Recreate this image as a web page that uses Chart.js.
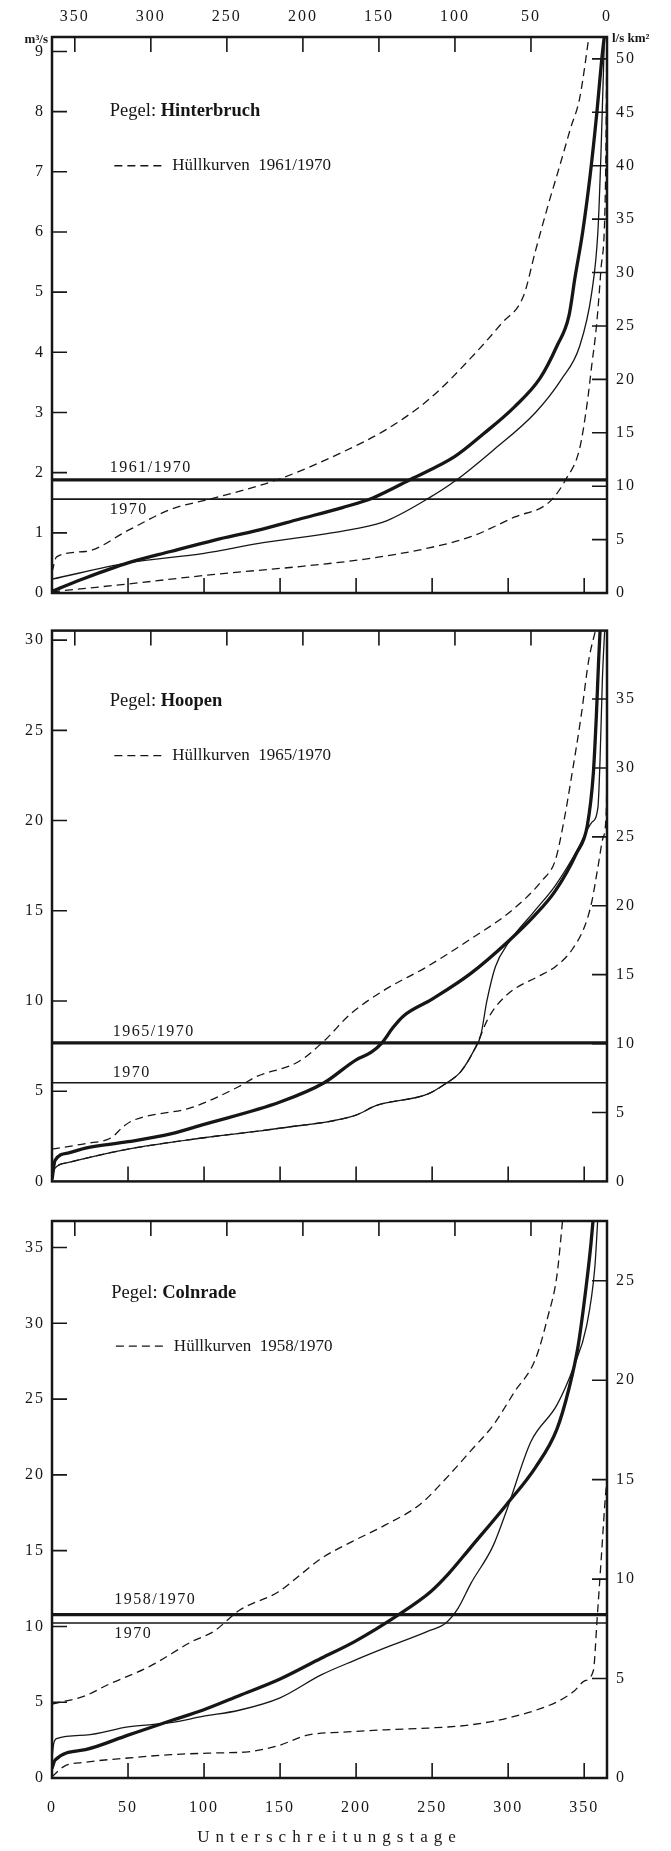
<!DOCTYPE html>
<html>
<head>
<meta charset="utf-8">
<title>Dauerlinien Hinterbruch, Hoopen, Colnrade</title>
<script src="https://cdn.jsdelivr.net/npm/chart.js@4.4.1/dist/chart.umd.min.js"></script>
<style>
  html, body { margin: 0; padding: 0; background: #fff; }
  #wrap { position: relative; width: 671px; height: 1851px; }
  canvas { position: absolute; left: 0; }
</style>
</head>
<body>
<div id="wrap">
  <canvas id="c1" width="671" height="612" style="top:0"></canvas>
  <canvas id="c2" width="671" height="588" style="top:612px"></canvas>
  <canvas id="c3" width="671" height="651" style="top:1200px"></canvas>
</div>
<script>
// Unterschreitungstage (x) und Abfluss in m³/s (y)
const DAY_MIN = 0, DAY_MAX = 365;

// Pegel Hinterbruch 1961/1970
const hbMaxDays  = [0, 3, 22, 50, 78, 107, 149, 191, 220, 248, 276, 296, 310, 318, 327, 333, 341, 347, 354];
const hbMaxQ     = [0.35, 0.6, 0.69, 1.04, 1.39, 1.58, 1.89, 2.34, 2.72, 3.22, 3.92, 4.49, 4.93, 5.69, 6.51, 7.02, 7.72, 8.22, 9.4];
const hbMinDays  = [0, 50, 107, 163, 205, 248, 276, 304, 327, 338, 347, 352, 355, 358, 361, 364, 365];
const hbMinQ     = [0.02, 0.15, 0.31, 0.44, 0.56, 0.75, 0.94, 1.26, 1.51, 1.89, 2.4, 3.16, 3.79, 4.42, 5.37, 6.8, 9.4];
const hbMeanDays = [0, 22, 50, 78, 107, 135, 163, 191, 211, 236, 265, 284, 304, 321, 332, 340, 344, 349, 354, 358, 362, 364];
const hbMeanQ    = [0.03, 0.25, 0.5, 0.69, 0.88, 1.04, 1.23, 1.42, 1.58, 1.89, 2.27, 2.65, 3.09, 3.57, 4.1, 4.61, 5.25, 6.0, 6.96, 7.9, 8.98, 9.4];
const hb70Days   = [0, 50, 100, 135, 200, 220, 248, 265, 290, 318, 335, 347, 355, 359, 361, 363.5];
const hb70Q      = [0.23, 0.5, 0.66, 0.82, 1.07, 1.2, 1.58, 1.86, 2.37, 3.0, 3.55, 4.1, 5.0, 6.0, 7.27, 9.4];
const hbMQ = 1.88, hbMQ70 = 1.56;

// Pegel Hoopen 1965/1970
const hoMaxDays  = [0, 22, 39, 47, 53, 92, 123, 134, 162, 179, 196, 218.5, 246.6, 274.7, 302.8, 322.5, 331, 336.5, 342, 348, 353, 357.6];
const hoMaxQ     = [1.79, 2.1, 2.42, 3.05, 3.37, 4.1, 5.26, 5.79, 6.63, 7.79, 9.26, 10.6, 11.9, 13.4, 15.05, 16.7, 17.8, 19.9, 22.6, 25.8, 28.9, 30.6];
const hoMinDays  = [0, 2, 11, 50, 100, 150, 200, 213, 247, 258, 269, 277.5, 282, 286, 292, 303, 320, 331, 342, 350.6, 355, 359, 362.4, 364.6, 365];
const hoMinQ     = [0.3, 0.74, 1.05, 1.79, 2.42, 2.95, 3.68, 4.2, 4.84, 5.37, 6.1, 7.26, 8.1, 8.9, 9.7, 10.6, 11.37, 11.9, 12.84, 14.2, 15.5, 17.4, 19.05, 20.7, 24];
const hoMeanDays = [0, 2, 11, 22, 50, 78, 100, 150, 179, 200, 210, 217, 224, 231, 250, 275, 300, 317, 331, 345, 352, 356, 358, 359.5, 360.5];
const hoMeanQ    = [0.1, 1.16, 1.58, 1.85, 2.2, 2.63, 3.16, 4.4, 5.47, 6.74, 7.16, 7.68, 8.5, 9.16, 10.1, 11.5, 13.3, 14.7, 16.1, 18.2, 19.7, 22.6, 25.8, 28.9, 30.6];
const ho70Days   = [0, 2, 11, 50, 100, 150, 200, 213, 247, 258, 269, 277.5, 282, 286, 291.6, 300, 317, 331, 345, 355, 359, 360.4, 362, 363.5];
const ho70Q      = [0.3, 0.74, 1.05, 1.79, 2.42, 2.95, 3.68, 4.2, 4.84, 5.37, 6.1, 7.26, 8.1, 10.0, 11.9, 13.2, 14.95, 16.4, 18.3, 19.9, 20.7, 23.3, 27.9, 30.6];
const hoMQ = 7.68, hoMQ70 = 5.47;

// Pegel Colnrade 1958/1970
const coMaxDays  = [0, 22, 36, 64, 92, 106.5, 123, 149, 163, 177, 197, 219, 242, 261, 275.5, 290, 304, 318, 326, 332, 336];
const coMaxQ     = [4.88, 5.43, 6.12, 7.35, 9.0, 9.68, 11.05, 12.29, 13.38, 14.48, 15.58, 16.68, 18.05, 19.97, 21.6, 23.26, 25.45, 27.65, 30.4, 33.1, 37];
const coMinDays  = [0, 8, 22, 50, 78, 106.5, 129, 149, 168, 191, 219, 247, 275.5, 304, 332, 343, 350, 356, 358.6, 361.4, 364.2, 365];
const coMinQ     = [0.08, 0.77, 1.04, 1.32, 1.54, 1.65, 1.73, 2.14, 2.83, 3.02, 3.18, 3.29, 3.51, 4.06, 5.02, 5.7, 6.39, 7.08, 10.64, 14.76, 18.87, 19.5];
const coMeanDays = [0, 2, 22, 50, 78, 99, 123, 150, 177, 199, 228, 249, 261, 275, 299, 318, 332, 340, 346, 351.5, 354.5, 356];
const coMeanQ    = [0.63, 1.18, 1.87, 2.83, 3.78, 4.47, 5.43, 6.53, 7.9, 9.0, 10.78, 12.29, 13.5, 15.17, 18.05, 20.5, 23.0, 25.7, 28.5, 32.6, 35.3, 37];
const co70Days   = [0, 1, 3, 22, 50, 78, 99, 123, 150, 177, 199, 219, 247, 259, 267, 275.5, 290, 299.4, 315, 332, 343, 351.5, 357, 359];
const co70Q      = [1.3, 2.2, 2.6, 2.83, 3.37, 3.65, 4.06, 4.47, 5.29, 6.8, 7.76, 8.58, 9.68, 10.23, 11.19, 12.84, 15.3, 17.77, 22.2, 24.6, 27.1, 29.8, 33.7, 37];
const coMQ = 10.78, coMQ70 = 10.23;

const INK = '#161616';
const FONT = '"Liberation Serif", "DejaVu Serif", serif';

const pts = (xs, ys) => xs.map((x, i) => ({x: x, y: ys[i]}));
const flat = v => [{x: DAY_MIN, y: v}, {x: DAY_MAX, y: v}];

// Rahmen und nach innen gerichtete Striche
const framePlugin = {
    id: 'frame',
    afterDraw(chart) {
        const {ctx, chartArea: a, scales} = chart;
        const L = 15;
        ctx.save();
        ctx.strokeStyle = INK;
        ctx.lineWidth = 1.6;
        ctx.beginPath();
        scales.x.ticks.forEach(t => {
            if (t.value <= DAY_MIN) return;
            const px = scales.x.getPixelForValue(t.value);
            ctx.moveTo(px, a.bottom); ctx.lineTo(px, a.bottom - L);
        });
        scales.x2.ticks.forEach(t => {
            if (t.value <= DAY_MIN) return;
            const px = scales.x2.getPixelForValue(t.value);
            ctx.moveTo(px, a.top); ctx.lineTo(px, a.top + L);
        });
        scales.y.ticks.forEach(t => {
            if (t.value <= 0) return;
            const py = scales.y.getPixelForValue(t.value);
            ctx.moveTo(a.left, py); ctx.lineTo(a.left + L, py);
        });
        scales.y2.ticks.forEach(t => {
            if (t.value <= 0) return;
            const py = scales.y2.getPixelForValue(t.value);
            ctx.moveTo(a.right, py); ctx.lineTo(a.right - L, py);
        });
        ctx.stroke();
        ctx.lineWidth = 2.5;
        ctx.strokeRect(a.left, a.top, a.right - a.left, a.bottom - a.top);
        ctx.restore();
    }
};

// Beschriftungen im Diagramm
const notesPlugin = {
    id: 'notes',
    afterDraw(chart, args, o) {
        if (!o || !o.station) return;
        const {ctx, scales: {x, y}, chartArea: a} = chart;
        const X = v => x.getPixelForValue(v), Y = v => y.getPixelForValue(v);
        ctx.save();
        ctx.letterSpacing = '0px';
        ctx.fillStyle = INK;
        ctx.strokeStyle = INK;
        ctx.textBaseline = 'middle';
        ctx.textAlign = 'left';

        let px = X(o.at[0]);
        ctx.font = '18.5px ' + FONT;
        ctx.fillText('Pegel: ', px, Y(o.at[1]));
        px += ctx.measureText('Pegel: ').width;
        ctx.font = 'bold 18.5px ' + FONT;
        ctx.fillText(o.station, px, Y(o.at[1]));

        const lx = X(o.legendAt[0]), ly = Y(o.legendAt[1]);
        ctx.lineWidth = 1.3;
        ctx.setLineDash([8, 5]);
        ctx.beginPath();
        ctx.moveTo(lx, ly); ctx.lineTo(lx + 48, ly);
        ctx.stroke();
        ctx.setLineDash([]);
        ctx.font = '17px ' + FONT;
        ctx.fillText('Hüllkurven  ' + o.period, lx + 58, ly);

        ctx.font = '16px ' + FONT;
        ctx.letterSpacing = '1.5px';
        ctx.fillText(o.period, X(o.labelDay), Y(o.periodLabelQ));
        ctx.fillText(o.year, X(o.labelDay), Y(o.yearLabelQ));
        ctx.letterSpacing = '0px';

        if (o.units) {
            ctx.font = 'bold 13px ' + FONT;
            ctx.textAlign = 'right';
            ctx.fillText('m³/s', a.left - 4, a.top + 3);
            ctx.textAlign = 'left';
            ctx.fillText('l/s km²', a.right + 5, a.top + 2);
        }
        ctx.restore();
    }
};

// Sperrsatz fuer den Achsentitel, Tick-Beschriftungen werden nach den Kurven gezeichnet
const spacingPlugin = {
    id: 'spacing',
    beforeDraw(chart, args, o) { chart.ctx.letterSpacing = o.title || '0px'; },
    beforeDatasetsDraw(chart, args, o) { chart.ctx.letterSpacing = o.ticks || '0px'; },
    afterDraw(chart) { chart.ctx.letterSpacing = '0px'; }
};

const tickFont = {family: FONT, size: 16};

function panel(id, p) {
    const curve = (xs, ys, style) => Object.assign({data: pts(xs, ys), clip: 0}, style);
    const dash = {borderWidth: 1.3, borderDash: [8, 5]};
    const thin = {borderWidth: 1.3};
    const thick = {borderWidth: 3.3};
    const datasets = [
        curve(p.maxDays, p.maxQ, dash),
        curve(p.minDays, p.minQ, dash),
        curve(p.days70, p.q70, thin),
        curve(p.meanDays, p.meanQ, thick),
        {data: flat(p.mq), borderWidth: 3.3, clip: 0, cubicInterpolationMode: 'default', tension: 0},
        {data: flat(p.mq70), borderWidth: 1.6, clip: 0, cubicInterpolationMode: 'default', tension: 0}
    ];
    const axisX = (pos, extra) => Object.assign({
        type: 'linear', position: pos, min: DAY_MIN, max: DAY_MAX,
        grid: {display: false, drawTicks: false}, border: {display: false}
    }, extra);

    new Chart(document.getElementById(id), {
        type: 'line',
        data: {datasets: datasets},
        options: {
            responsive: false,
            animation: false,
            events: [],
            layout: {padding: 0},
            elements: {
                point: {radius: 0},
                line: {borderColor: INK, fill: false, cubicInterpolationMode: 'monotone'}
            },
            plugins: {
                legend: {display: false},
                tooltip: {enabled: false},
                notes: p.notes,
                spacing: {title: '6px', ticks: '2px'}
            },
            scales: {
                x: axisX('bottom', {
                    ticks: {display: p.bottomLabels, stepSize: 50, includeBounds: false, maxRotation: 0,
                            autoSkip: false, padding: 20, color: INK, font: tickFont, z: 1},
                    title: {display: p.bottomLabels, text: 'Unterschreitungstage', color: INK,
                            font: {family: FONT, size: 17}, padding: {top: 0, bottom: 3}},
                    afterFit: s => { s.height = p.bottomH; }
                }),
                x2: axisX('top', {
                    reverse: true,
                    ticks: {display: p.topLabels, stepSize: 50, includeBounds: false, maxRotation: 0,
                            autoSkip: false, padding: 11, color: INK, font: tickFont, z: 1},
                    afterFit: s => { s.height = p.topH; }
                }),
                y: {
                    type: 'linear', position: 'left', min: 0, max: p.yMax,
                    grid: {display: false, drawTicks: false}, border: {display: false},
                    ticks: {stepSize: p.yStep, includeBounds: false, padding: 7, color: INK, font: tickFont, z: 1},
                    afterFit: s => { s.width = 52; }
                },
                y2: {
                    type: 'linear', position: 'right', min: 0, max: p.yMax * p.spec,
                    grid: {display: false, drawTicks: false}, border: {display: false},
                    ticks: {stepSize: 5, includeBounds: false, padding: 9, color: INK, font: tickFont, z: 1},
                    afterFit: s => { s.width = 64; }
                }
            }
        },
        plugins: [framePlugin, notesPlugin, spacingPlugin]
    });
}

panel('c1', {
    maxDays: hbMaxDays, maxQ: hbMaxQ, minDays: hbMinDays, minQ: hbMinQ,
    meanDays: hbMeanDays, meanQ: hbMeanQ, days70: hb70Days, q70: hb70Q,
    mq: hbMQ, mq70: hbMQ70,
    yMax: 9.24, yStep: 1, spec: 5.633,
    topH: 37, bottomH: 19, topLabels: true, bottomLabels: false,
    notes: {station: 'Hinterbruch', period: '1961/1970', year: '1970', at: [38, 8.0], legendAt: [41, 7.1],
            labelDay: 38, periodLabelQ: 2.08, yearLabelQ: 1.39, units: true}
});

panel('c2', {
    maxDays: hoMaxDays, maxQ: hoMaxQ, minDays: hoMinDays, minQ: hoMinQ,
    meanDays: hoMeanDays, meanQ: hoMeanQ, days70: ho70Days, q70: ho70Q,
    mq: hoMQ, mq70: hoMQ70,
    yMax: 30.53, yStep: 5, spec: 1.309,
    topH: 18, bottomH: 14, topLabels: false, bottomLabels: false,
    notes: {station: 'Hoopen', period: '1965/1970', year: '1970', at: [38, 26.6], legendAt: [41, 23.6],
            labelDay: 40, periodLabelQ: 8.3, yearLabelQ: 6.0}
});

panel('c3', {
    maxDays: coMaxDays, maxQ: coMaxQ, minDays: coMinDays, minQ: coMinQ,
    meanDays: coMeanDays, meanQ: coMeanQ, days70: co70Days, q70: co70Q,
    mq: coMQ, mq70: coMQ70,
    yMax: 36.75, yStep: 5, spec: 0.762,
    topH: 21, bottomH: 73, topLabels: false, bottomLabels: true,
    notes: {station: 'Colnrade', period: '1958/1970', year: '1970', at: [39, 32.0], legendAt: [42, 28.5],
            labelDay: 41, periodLabelQ: 11.74, yearLabelQ: 9.54}
});
</script>
</body>
</html>
